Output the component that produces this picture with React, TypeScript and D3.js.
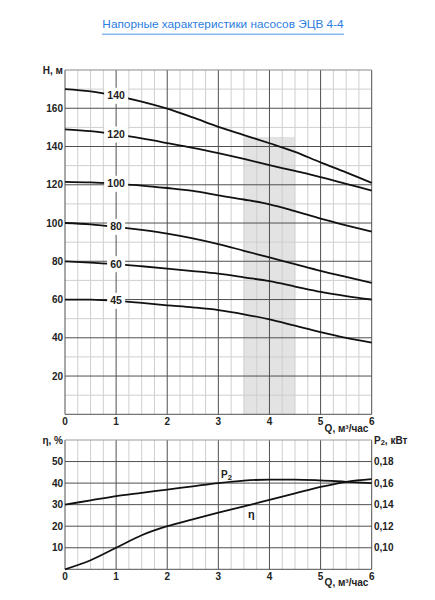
import React from "react";
import * as d3 from "d3";

const Q = [0, 0.5, 1, 1.5, 2, 2.5, 3, 3.5, 4, 4.5, 5, 5.5, 6];
const H140 = [170, 168.8, 166.5, 163.5, 159.8, 155.2, 150.3, 146, 141.7, 137.2, 131.7, 126.5, 121];
const H120 = [149, 148, 146.3, 144.2, 141.8, 139.3, 136.5, 133.5, 130.3, 127.2, 124, 120.5, 117];
const H100 = [121.5, 121.2, 120.5, 119.6, 118.3, 116.8, 114.5, 112.3, 109.8, 106.2, 102.3, 98.8, 95.5];
const H80 = [100, 99.3, 98, 96.4, 94.5, 92, 89, 85.5, 82, 78.5, 75, 71.8, 68.7];
const H60 = [80, 79.3, 78.5, 77.4, 76.2, 74.9, 73.5, 71.6, 69.6, 66.8, 64, 61.8, 60];
const H45 = [60, 59.9, 59.3, 58.2, 57, 55.9, 54.5, 52.3, 49.6, 46.3, 43, 40, 37.5];
const pumpLabels = ["140", "120", "100", "80", "60", "45"];
const pumpSeries = [H140, H120, H100, H80, H60, H45];

const ETA = [0, 4.2, 10, 15.8, 20, 23.2, 26.3, 29.2, 32.2, 35.2, 38.2, 40.6, 41.8];
const P2 = [0.14, 0.144, 0.148, 0.151, 0.154, 0.157, 0.16, 0.1623, 0.1633, 0.1633, 0.1625, 0.1612, 0.16];

const xTicks = [0, 1, 2, 3, 4, 5, 6];
const hTicks = [20, 40, 60, 80, 100, 120, 140, 160];
const etaTicks = [10, 20, 30, 40, 50];
const pTicks = [0.1, 0.12, 0.14, 0.16, 0.18];
const band = [3.5, 4.5, 145];

const TITLE = "Напорные характеристики насосов ЭЦВ 4-4";

const FONT = "'Liberation Sans', Arial, sans-serif";
const MINOR = "#cfcfcf";
const MAJOR = "#505050";

export default function App() {
  const x = d3.scaleLinear().domain([0, 6]).range([65, 371.7]);
  const yH = d3.scaleLinear().domain([0, 180]).range([414.3, 70]);
  const yE = d3.scaleLinear().domain([0, 60]).range([569.3, 440]);
  const yP = d3.scaleLinear().domain([0.08, 0.2]).range([569.3, 440]);

  const quarters = d3.range(0, 6.001, 0.25).filter((v) => Math.abs(v - Math.round(v)) > 0.01);
  const hMinor = d3.range(10, 180, 20);

  const lineH = (vals: number[]) =>
    d3.line<number>().x((_, i) => x(Q[i])).y((d) => yH(d)).curve(d3.curveMonotoneX)(vals) || "";
  const lineE = d3.line<number>().x((_, i) => x(Q[i])).y((d) => yE(d)).curve(d3.curveMonotoneX)(ETA) || "";
  const lineP = d3.line<number>().x((_, i) => x(Q[i])).y((d) => yP(d)).curve(d3.curveMonotoneX)(P2) || "";

  const [x0, x1] = x.range();
  const tickStyle: React.CSSProperties = { fontFamily: FONT, fontSize: 10, fontWeight: "bold", fill: "#222" };

  return (
    <svg width={435} height={600} style={{ position: "absolute", left: 0, top: 0, background: "#fff" }}>
      {/* title */}
      <text x={223} y={27.5} textAnchor="middle" style={{ fontFamily: FONT, fontSize: 11.8, fill: "#2b7de0" }}>
        {TITLE}
      </text>
      <line x1={102} x2={344} y1={34.3} y2={34.3} stroke="#86b9ee" strokeWidth={1.5} />

      {/* ===== top chart ===== */}
      <rect x={x(band[0])} width={x(band[1]) - x(band[0])} y={yH(band[2])} height={yH(0) - yH(band[2])} fill="#e3e3e3" />
      {quarters.map((q) => (
        <line key={"tq" + q} x1={x(q)} x2={x(q)} y1={yH(180)} y2={yH(0)} stroke={MINOR} />
      ))}
      {hMinor.map((h) => (
        <line key={"hm" + h} x1={x0} x2={x1} y1={yH(h)} y2={yH(h)} stroke={MINOR} />
      ))}
      {hTicks.map((h) => (
        <line key={"hM" + h} x1={x0} x2={x1} y1={yH(h)} y2={yH(h)} stroke={MAJOR} />
      ))}
      {xTicks.map((q) => (
        <line key={"tx" + q} x1={x(q)} x2={x(q)} y1={yH(180)} y2={yH(0)} stroke={MAJOR} />
      ))}
      <line x1={x0} x2={x1} y1={yH(180)} y2={yH(180)} stroke="#8a8a8a" />
      <line x1={x0} x2={x1} y1={yH(0)} y2={yH(0)} stroke={MAJOR} />

      {pumpSeries.map((s, i) => (
        <path key={"c" + i} d={lineH(s)} fill="none" stroke="#111" strokeWidth={1.8} />
      ))}
      {pumpSeries.map((s, i) => {
        const cy = yH(s[2]);
        const w = pumpLabels[i].length * 6 + 6;
        return (
          <g key={"l" + i}>
            <rect x={x(1) - w / 2} y={cy - 8} width={w} height={16} fill="#fff" />
            <text x={x(1)} y={cy + 3.6} textAnchor="middle" style={{ ...tickStyle, fontSize: 10.5 }}>
              {pumpLabels[i]}
            </text>
          </g>
        );
      })}

      {hTicks.map((h) => (
        <text key={"ht" + h} x={63} y={yH(h) + 3.5} textAnchor="end" style={tickStyle}>
          {h}
        </text>
      ))}
      <text x={63} y={yH(180) + 3.5} textAnchor="end" style={tickStyle}>
        H, м
      </text>
      {xTicks.map((q) => (
        <text key={"xt" + q} x={x(q)} y={425} textAnchor="middle" style={tickStyle}>
          {q}
        </text>
      ))}
      <text x={346.5} y={432} textAnchor="middle" style={tickStyle}>
        Q, м³/час
      </text>

      {/* ===== bottom chart ===== */}
      {quarters.map((q) => (
        <line key={"bq" + q} x1={x(q)} x2={x(q)} y1={yE(60)} y2={yE(0)} stroke={MINOR} />
      ))}
      {etaTicks.map((e) => (
        <line key={"be" + e} x1={x0} x2={x1} y1={yE(e)} y2={yE(e)} stroke={MAJOR} />
      ))}
      {xTicks.map((q) => (
        <line key={"bx" + q} x1={x(q)} x2={x(q)} y1={yE(60)} y2={yE(0)} stroke={MAJOR} />
      ))}
      <line x1={x0} x2={x1} y1={yE(60)} y2={yE(60)} stroke="#9a9a9a" />
      <line x1={x0} x2={x1} y1={yE(0)} y2={yE(0)} stroke={MAJOR} />

      <path d={lineP} fill="none" stroke="#111" strokeWidth={1.8} />
      <path d={lineE} fill="none" stroke="#111" strokeWidth={1.8} />

      <text x={221} y={478} style={{ ...tickStyle, fontSize: 10 }}>
        P<tspan fontSize={7.5} dy={1.5}>2</tspan>
      </text>
      <text x={248} y={518} style={{ ...tickStyle, fontSize: 11 }}>
        η
      </text>

      {etaTicks.map((e) => (
        <text key={"et" + e} x={63} y={yE(e) + 3.5} textAnchor="end" style={tickStyle}>
          {e}
        </text>
      ))}
      <text x={63} y={yE(60) + 4} textAnchor="end" style={tickStyle}>
        η, %
      </text>
      {pTicks.map((p) => (
        <text key={"pt" + p} x={374} y={yP(p) + 3.5} style={tickStyle}>
          {d3.format(".2f")(p).replace(".", ",")}
        </text>
      ))}
      <text x={374} y={yP(0.2) + 3.5} style={tickStyle}>
        P<tspan fontSize={7.5} dy={1.5}>2</tspan><tspan dy={-1.5}>, кВт</tspan>
      </text>
      {xTicks.map((q) => (
        <text key={"bt" + q} x={x(q)} y={580} textAnchor="middle" style={tickStyle}>
          {q}
        </text>
      ))}
      <text x={346.5} y={586} textAnchor="middle" style={tickStyle}>
        Q, м³/час
      </text>
    </svg>
  );
}
